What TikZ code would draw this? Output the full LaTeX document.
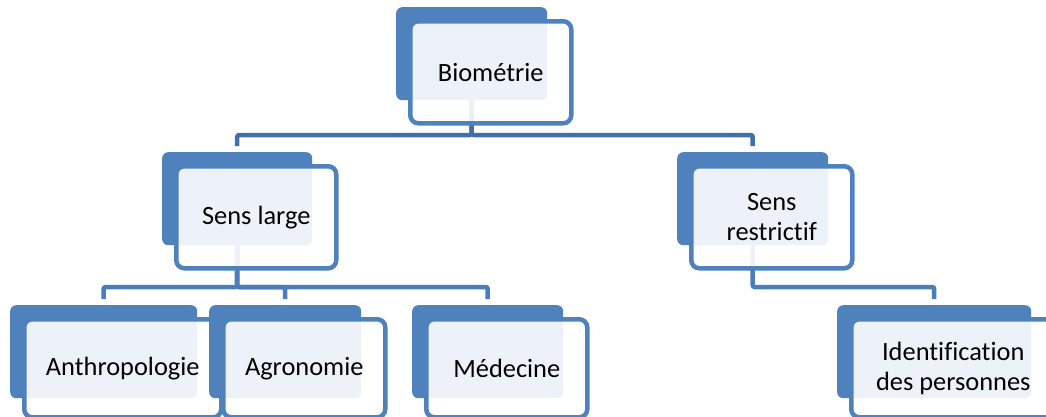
\documentclass[tikz,border=0pt]{standalone}
\usepackage{fontspec}
\setmainfont{Carlito}[Ligatures=NoCommon]
\usetikzlibrary{positioning,calc,backgrounds}
\definecolor{OrgBlue}{HTML}{4F81BD}
\definecolor{OrgLink}{HTML}{4A7DBA}
\definecolor{OrgLinkTop}{HTML}{4170A8}
\tikzset{
  backbox/.style={fill=OrgBlue,rounded corners=6pt,minimum height=93pt,
                  inner sep=0pt,anchor=north west},
  frontbox/.style={draw=OrgBlue,line width=4.5pt,fill=white,fill opacity=0.9,
                   text opacity=1,rounded corners=8pt,anchor=north west,
                   align=center,text=black,inner sep=0pt,
                   font=\fontsize{26.4}{29.5}\selectfont},
  link/.style={OrgLink,line width=4.5pt,rounded corners=2pt},
  linktop/.style={link,OrgLinkTop},
}
\newcommand{\orgitem}[6][102]{%
  \node[backbox,minimum width=#5pt] (#2-b) at (#3,#4) {};
  \node[frontbox,minimum width=#5pt+10pt,minimum height=#1pt] (#2)
    at ([shift={(12,12)}]#2-b.north west) {#6};
}

\begin{document}
\begin{tikzpicture}[x=1pt,y=-1pt]
    \useasboundingbox (0,0) rectangle (1046,416);

    \orgitem{bio}{396}{7}{151}{Biométrie}
    \orgitem{slarge}{162}{152}{150}{Sens large}
    \orgitem{srestr}{677}{152}{151}{Sens\\restrictif}
    \orgitem[98]{anthro}{10}{305}{187}{Anthropologie}
    \orgitem[98]{agro}{209}{305}{152}{Agronomie}
    \orgitem[98]{med}{412}{305}{151}{Médecine}
    \orgitem[98]{ident}{837}{305}{194}{Identification\\des personnes}

    \coordinate (bus1) at (0,135);
    \coordinate (bus2) at (0,287);

    % connectors sit behind the boxes
    \begin{scope}[on background layer]
      \draw[linktop] (bio-b.center) -- (bio-b.center |- bus1) -| ([yshift=6pt]slarge-b.north);
      \draw[linktop] (bio-b.center) -- (bio-b.center |- bus1) -| ([yshift=6pt]srestr-b.north);
      \draw[link] (slarge-b.center) -- (slarge-b.center |- bus2) -| ([yshift=6pt]anthro-b.north);
      \draw[link] (slarge-b.center) -- (slarge-b.center |- bus2) -| ([yshift=6pt]agro-b.north);
      \draw[link] (slarge-b.center) -- (slarge-b.center |- bus2) -| ([yshift=6pt]med-b.north);
      \draw[link] (srestr-b.center) -- (srestr-b.center |- bus2) -| ([yshift=6pt]ident-b.north);
    \end{scope}
\end{tikzpicture}
\end{document}
